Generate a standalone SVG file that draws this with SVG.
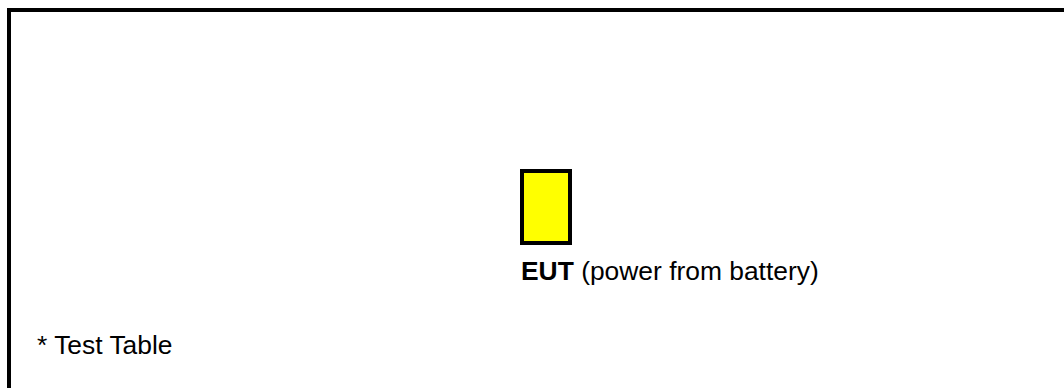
<svg xmlns="http://www.w3.org/2000/svg" width="1064" height="388" viewBox="0 0 1064 388">
<style>
.lbl{font-family:"Liberation Sans",Arial,sans-serif;font-size:26.4px;fill:#000}
.b{font-weight:bold}
</style>
<rect width="1064" height="388" fill="#fff"/>
<g id="table">
<path d="M9,388 V10 H1064" fill="none" stroke="#000" stroke-width="4"/>
<text class="lbl" x="37" y="354">* Test Table</text>
</g>
<g id="eut">
<rect x="522" y="171" width="48" height="72" fill="#ffff00" stroke="#000" stroke-width="4"/>
<text class="lbl" x="521" y="280"><tspan class="b">EUT</tspan> (power from battery)</text>
</g>
<g id="connectors"/>
</svg>
